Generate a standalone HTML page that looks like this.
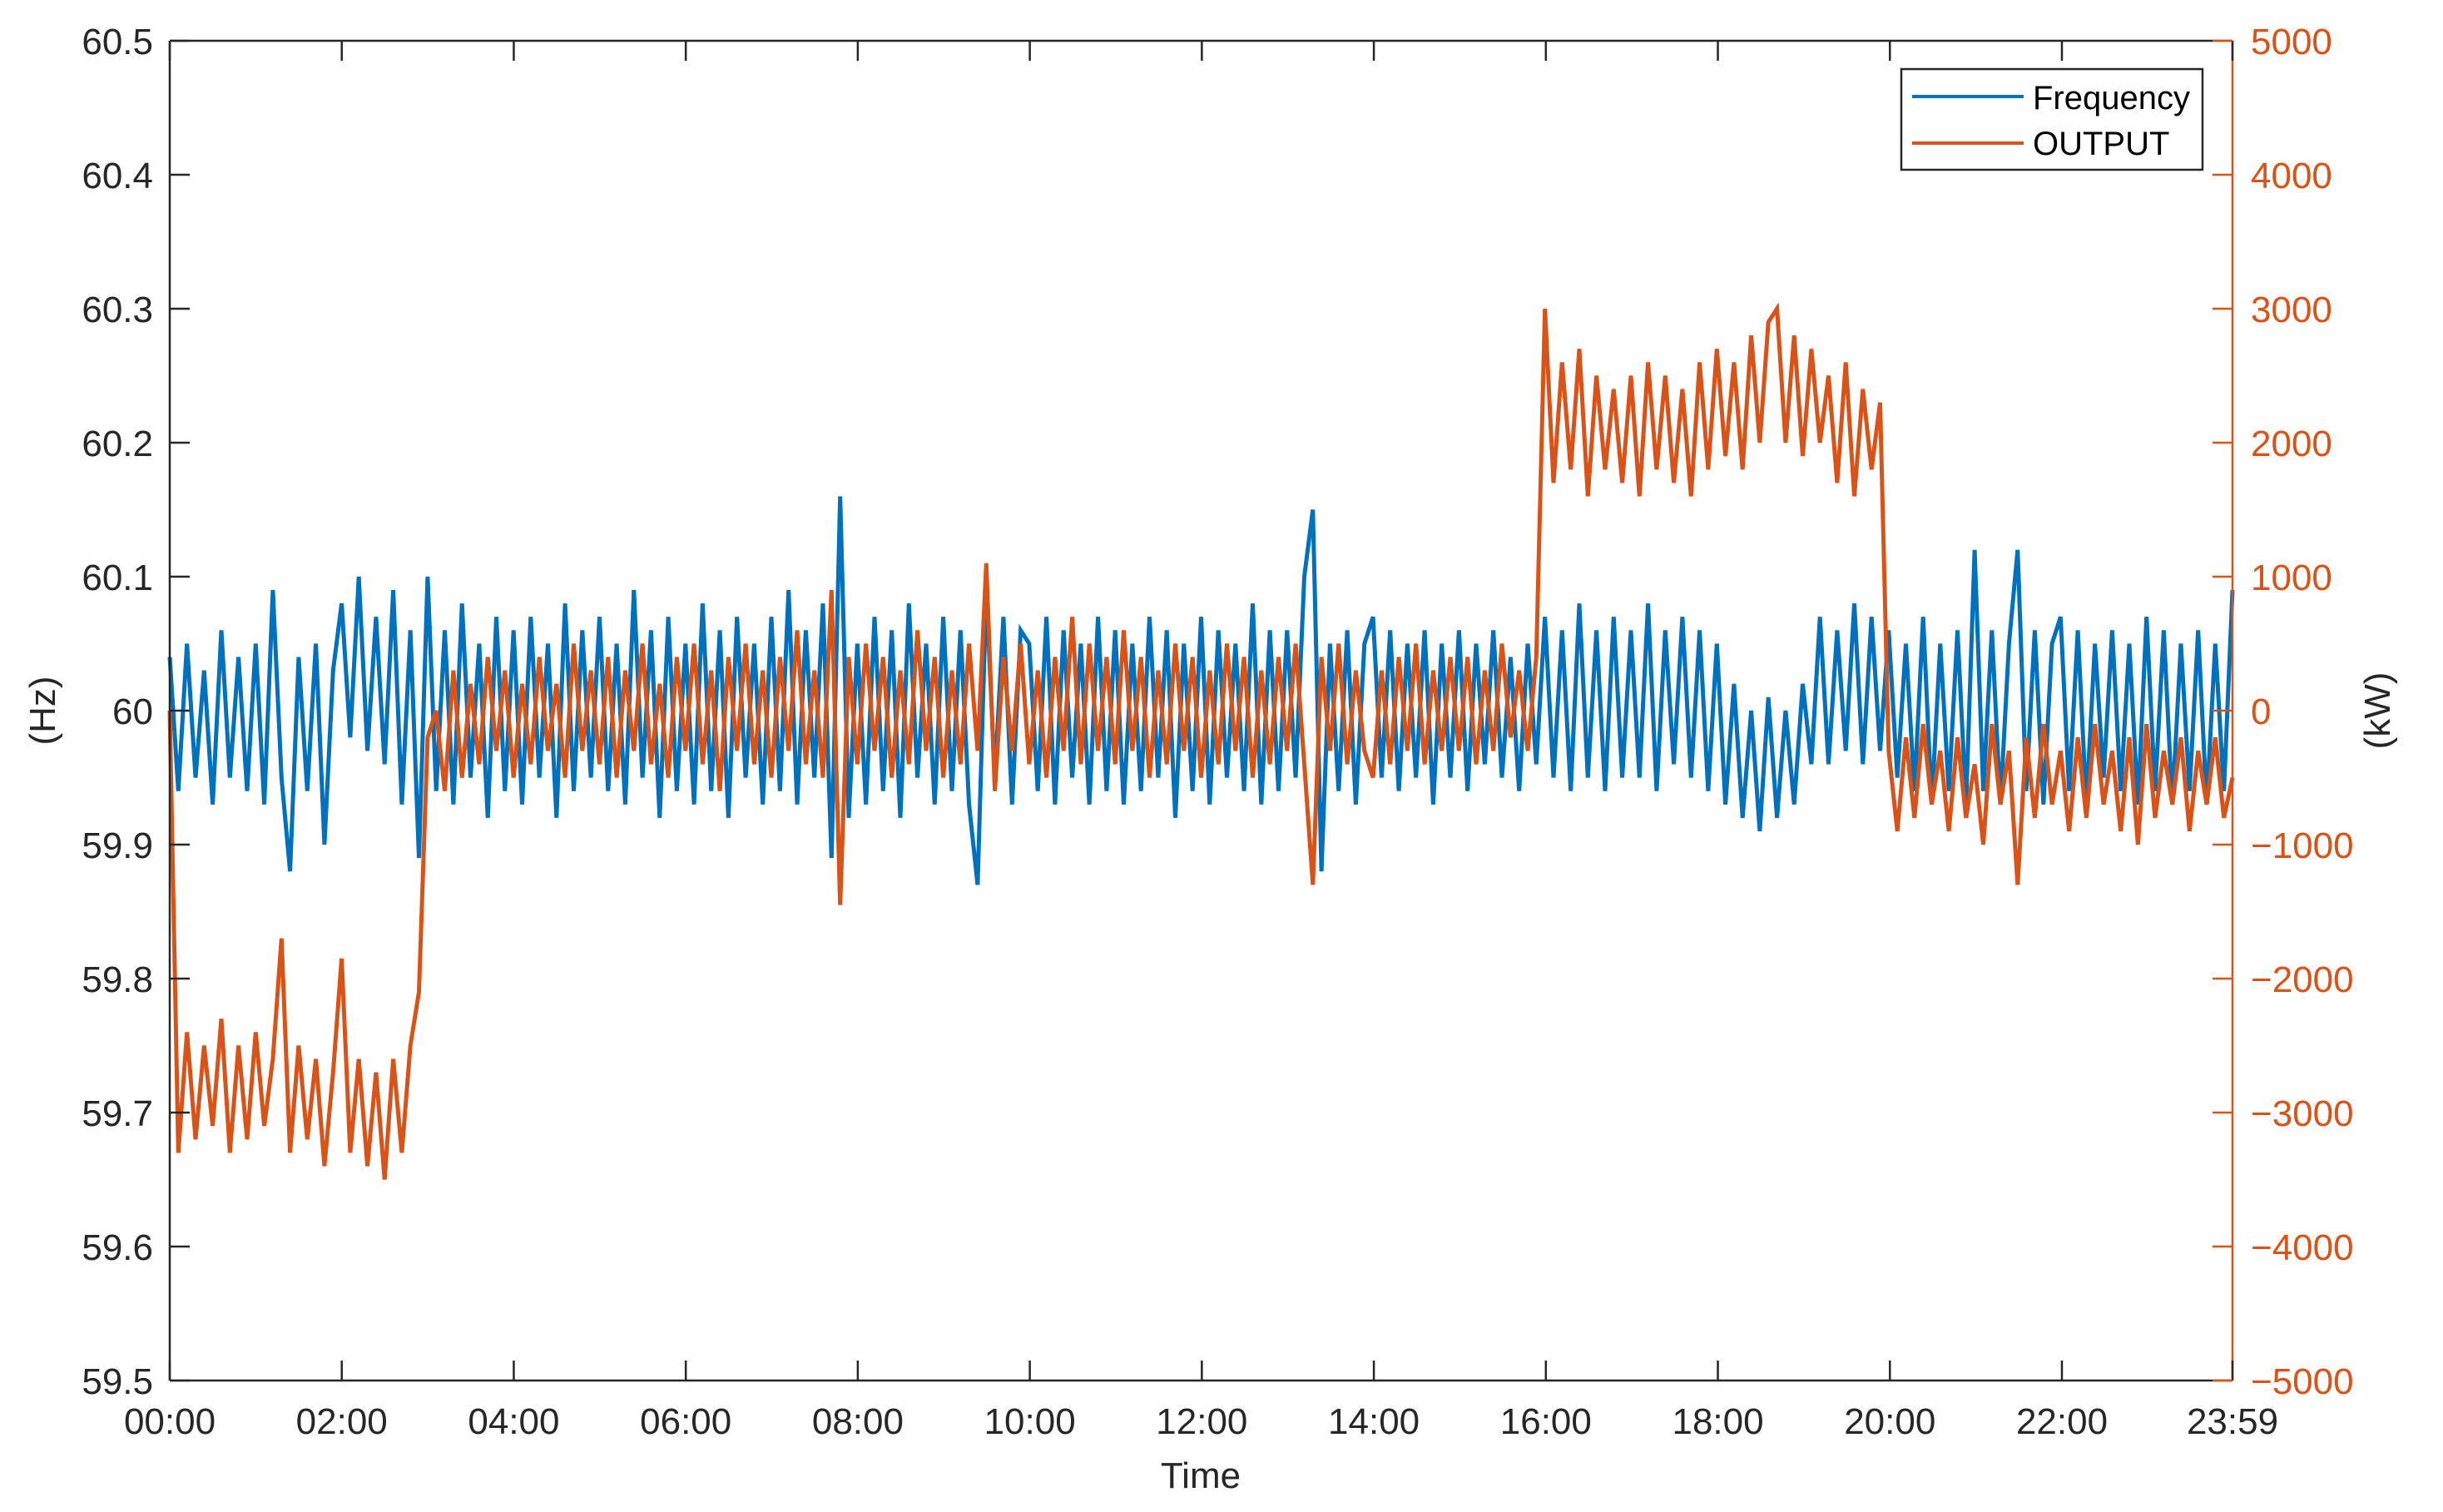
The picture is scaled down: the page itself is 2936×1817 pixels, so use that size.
<!DOCTYPE html>
<html><head><meta charset="utf-8"><style>
html,body{margin:0;padding:0;background:#fff}
svg{display:block;font-family:"Liberation Sans",Arial,sans-serif}
</style></head><body>
<svg id="chart" width="2936" height="1817" viewBox="0 0 2936 1817" xmlns="http://www.w3.org/2000/svg">
<rect width="2936" height="1817" fill="#fff"/>
<g id="series"></g>
<g id="axes"></g>
<text x="0" y="0" transform="translate(66,854) rotate(-90)" text-anchor="middle" font-size="44" fill="#262626">(Hz)</text>
<text x="0" y="0" transform="translate(2872,854) rotate(-90)" text-anchor="middle" font-size="44" fill="#262626">(kW)</text>
<text x="1443" y="1788" text-anchor="middle" font-size="44" fill="#262626">Time</text>
<g>
<rect x="2285" y="83" width="362" height="121" fill="#fff" stroke="#262626" stroke-width="2.5"/>
<g><line x1="2298" y1="116" x2="2432" y2="116" stroke="#0072BD" stroke-width="4"/><text x="2443" y="131" font-size="40" fill="#000">Frequency</text></g>
<g><line x1="2298" y1="172" x2="2432" y2="172" stroke="#D95319" stroke-width="4"/><text x="2443" y="186" font-size="40" fill="#000">OUTPUT</text></g>
</g>
</svg>
<script>
const freqValues = [
60.04,59.94,60.05,59.95,60.03,59.93,60.06,59.95,60.04,59.94,
60.05,59.93,60.09,59.95,59.88,60.04,59.94,60.05,59.90,60.03,
60.08,59.98,60.10,59.97,60.07,59.96,60.09,59.93,60.06,59.89,
60.10,59.94,60.06,59.93,60.08,59.95,60.05,59.92,60.07,59.94,
60.06,59.93,60.07,59.95,60.05,59.92,60.08,59.94,60.06,59.95,
60.07,59.94,60.05,59.93,60.09,59.95,60.06,59.92,60.07,59.94,
60.05,59.93,60.08,59.94,60.06,59.92,60.07,59.95,60.05,59.93,
60.07,59.94,60.09,59.93,60.06,59.95,60.08,59.89,60.16,59.92,
60.05,59.93,60.07,59.94,60.06,59.92,60.08,59.95,60.05,59.93,
60.07,59.94,60.06,59.93,59.87,60.09,59.95,60.07,59.93,60.06,
60.05,59.94,60.07,59.93,60.06,59.95,60.05,59.93,60.07,59.94,
60.06,59.93,60.05,59.94,60.07,59.95,60.06,59.92,60.05,59.94,
60.07,59.93,60.06,59.95,60.05,59.94,60.08,59.93,60.06,59.94,
60.06,59.95,60.10,60.15,59.88,60.05,59.94,60.06,59.93,60.05,
60.07,59.95,60.06,59.94,60.05,59.95,60.06,59.93,60.05,59.95,
60.06,59.94,60.05,59.96,60.06,59.95,60.04,59.94,60.05,59.96,
60.07,59.95,60.06,59.94,60.08,59.95,60.06,59.94,60.07,59.95,
60.06,59.95,60.08,59.94,60.06,59.96,60.07,59.95,60.06,59.94,
60.05,59.93,60.02,59.92,60.00,59.91,60.01,59.92,60.00,59.93,
60.02,59.96,60.07,59.96,60.06,59.97,60.08,59.96,60.07,59.97,
60.06,59.95,60.05,59.94,60.07,59.93,60.05,59.94,60.06,59.93,
60.12,59.94,60.06,59.93,60.05,60.12,59.94,60.06,59.93,60.05,
60.07,59.94,60.06,59.93,60.05,59.95,60.06,59.94,60.05,59.93,
60.07,59.94,60.06,59.93,60.05,59.94,60.06,59.93,60.05,59.94,60.09];
const outputValues = [
0,-3300,-2400,-3200,-2500,-3100,-2300,-3300,-2500,-3200,
-2400,-3100,-2600,-1700,-3300,-2500,-3200,-2600,-3400,-2700,
-1850,-3300,-2600,-3400,-2700,-3500,-2600,-3300,-2500,-2100,
-200,0,-600,300,-500,200,-400,400,-300,300,
-500,200,-400,400,-300,200,-500,500,-300,300,
-400,400,-500,300,-300,500,-400,200,-500,400,
-300,500,-400,300,-600,400,-300,500,-400,300,
-500,400,-300,600,-400,300,-500,900,-1450,400,
-400,500,-300,400,-500,300,-400,600,-300,400,
-500,300,-400,500,-300,1100,-600,400,-300,500,
-400,300,-500,400,-300,700,-400,500,-300,400,
-400,600,-300,400,-500,300,-400,500,-300,400,
-500,300,-400,500,-300,400,-500,300,-400,400,
-300,500,-400,-1300,400,-300,500,-400,300,-300,
-500,300,-400,400,-300,500,-400,300,-300,400,
-300,400,-400,300,-300,500,-200,300,-300,400,
3000,1700,2600,1800,2700,1600,2500,1800,2400,1700,
2500,1600,2600,1800,2500,1700,2400,1600,2600,1800,
2700,1900,2600,1800,2800,2000,2900,3000,2000,2800,
1900,2700,2000,2500,1700,2600,1600,2400,1800,2300,
-300,-900,-200,-800,-100,-700,-300,-900,-200,-800,
-400,-1000,-100,-700,-300,-1300,-200,-800,-100,-700,
-300,-900,-200,-800,-100,-700,-300,-900,-200,-1000,
-100,-800,-300,-700,-200,-900,-300,-700,-200,-800,-500];
const xTickMinutes = [0,120,240,360,480,600,720,840,960,1080,1200,1320,1439];
const xTickLabels = ["00:00","02:00","04:00","06:00","08:00","10:00","12:00","14:00","16:00","18:00","20:00","22:00","23:59"];
const leftTicks = [59.5,59.6,59.7,59.8,59.9,60,60.1,60.2,60.3,60.4,60.5];
const leftTickLabels = ["59.5","59.6","59.7","59.8","59.9","60","60.1","60.2","60.3","60.4","60.5"];
const rightTicks = [-5000,-4000,-3000,-2000,-1000,0,1000,2000,3000,4000,5000];
const rightTickLabels = ["\u22125000","\u22124000","\u22123000","\u22122000","\u22121000","0","1000","2000","3000","4000","5000"];

const L=204,R=2683,T=49,B=1659;
const NS="http://www.w3.org/2000/svg";
const xScale=m=>L+(m/1439)*(R-L);
const yLeft=v=>B-(v-59.5)/1.0*(B-T);
const yRight=v=>B-(v+5000)/10000*(B-T);
function mk(tag,attrs,parent){const e=document.createElementNS(NS,tag);for(const k in attrs)e.setAttribute(k,attrs[k]);parent.appendChild(e);return e;}
const series=document.getElementById('series'), axes=document.getElementById('axes');

function drawLine(vals,yf,color,name){
  const step=1439/(vals.length-1);
  const pts=vals.map((v,i)=>xScale(i*step).toFixed(1)+','+yf(v).toFixed(1)).join(' ');
  const p=mk('polyline',{points:pts,fill:'none',stroke:color,'stroke-width':5,'stroke-linejoin':'miter'},series);
  
  
}
drawLine(freqValues,yLeft,'#0072BD','frequency-line');
drawLine(outputValues,yRight,'#D95319','output-line');

let e;
e=mk('line',{x1:L,y1:T,x2:R,y2:T,stroke:'#262626','stroke-width':2.5},axes);


e=mk('line',{x1:L,y1:B,x2:R,y2:B,stroke:'#262626','stroke-width':2.5},axes);


e=mk('line',{x1:L,y1:T,x2:L,y2:B,stroke:'#262626','stroke-width':2.5},axes);


e=mk('line',{x1:R,y1:T,x2:R,y2:B,stroke:'#D95319','stroke-width':2.5},axes);



xTickMinutes.forEach((m,i)=>{
  const x=xScale(m);
  mk('line',{x1:x,y1:B,x2:x,y2:B-24,stroke:'#262626','stroke-width':2.5},axes);
  mk('line',{x1:x,y1:T,x2:x,y2:T+24,stroke:'#262626','stroke-width':2.5},axes);
  const t=mk('text',{x:x,y:1723,'text-anchor':'middle','font-size':44,fill:'#262626'},axes);
  t.textContent=xTickLabels[i];
  
  
});
leftTicks.forEach((v,i)=>{
  const y=yLeft(v);
  mk('line',{x1:L,y1:y,x2:L+24,y2:y,stroke:'#262626','stroke-width':2.5},axes);
  const t=mk('text',{x:184,y:y+16,'text-anchor':'end','font-size':44,fill:'#262626'},axes);
  t.textContent=leftTickLabels[i];
  
  
});
rightTicks.forEach((v,i)=>{
  const y=yRight(v);
  mk('line',{x1:R,y1:y,x2:R-24,y2:y,stroke:'#D95319','stroke-width':2.5},axes);
  const t=mk('text',{x:2705,y:y+16,'text-anchor':'start','font-size':44,fill:'#D95319'},axes);
  t.textContent=rightTickLabels[i];
  
  
});
</script>
</body></html>
